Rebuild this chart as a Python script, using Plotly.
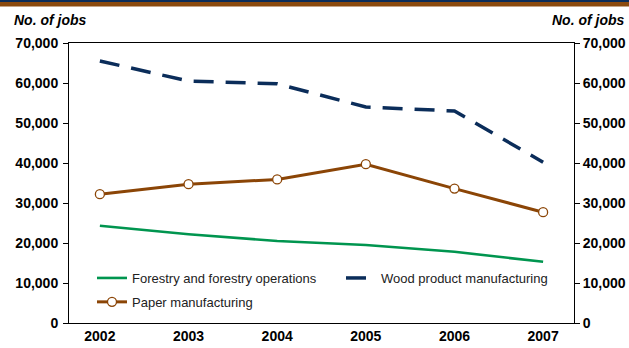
import plotly.graph_objects as go

years = ["2002", "2003", "2004", "2005", "2006", "2007"]
forestry = [24300, 22200, 20500, 19500, 17800, 15300]
wood = [65500, 60500, 59800, 54000, 53000, 40200]
paper = [32200, 34700, 35900, 39700, 33600, 27700]
y_ticks = [0, 10000, 20000, 30000, 40000, 50000, 60000, 70000]
y_tick_text = ["0", "10,000", "20,000", "30,000", "40,000", "50,000", "60,000", "70,000"]

GREEN = "#00954f"
NAVY = "#0b2d5a"
BROWN = "#8b4506"
FONT = "Liberation Sans, Arial, sans-serif"

W, H = 629, 348
ml, mr, mt, mb = 69, 55, 43, 25
pw = W - ml - mr
ph = H - mt - mb
top_paper = 1 + mt / ph

def py(pix):
    return 1 + (mt - pix) / ph

def px(pix):
    return (pix - ml) / pw

fig = go.Figure()
fig.add_trace(go.Scatter(x=years, y=forestry, name="Forestry and forestry operations",
                         mode="lines", line=dict(color=GREEN, width=2.6),
                         legend="legend", legendgroup="a"))
fig.add_trace(go.Scatter(x=years, y=paper, name="Paper manufacturing",
                         mode="lines+markers", line=dict(color=BROWN, width=3),
                         marker=dict(symbol="circle", size=9, color="white",
                                     line=dict(color=BROWN, width=1.3)),
                         legend="legend", legendgroup="b"))
fig.add_trace(go.Scatter(x=years, y=wood, name="Wood product manufacturing",
                         mode="lines", line=dict(color=NAVY, width=3.5, dash="20px,12px"),
                         yaxis="y2", legend="legend2"))

tickfont = dict(family=FONT, size=14, color="black", weight="bold")
legfont = dict(family=FONT, size=13, color="#222222")
fig.update_layout(
    width=W, height=H,
    margin=dict(l=ml, r=mr, t=mt, b=mb),
    paper_bgcolor="white", plot_bgcolor="white",
    font=dict(family=FONT, color="black"),
    xaxis=dict(showline=True, linecolor="black", linewidth=1, mirror=True,
               showgrid=False, ticks="", tickfont=tickfont, zeroline=False,
               automargin=False),
    yaxis=dict(range=[0, 70000], tickvals=y_ticks, ticktext=y_tick_text,
               showline=True, linecolor="black", linewidth=1, showgrid=False,
               ticks="outside", ticklen=5, tickcolor="black", zeroline=False,
               tickfont=tickfont, automargin=False, ticklabelstandoff=2),
    yaxis2=dict(range=[0, 70000], tickvals=y_ticks, ticktext=y_tick_text,
                overlaying="y", side="right", showline=True, linecolor="black",
                linewidth=1, showgrid=False, ticks="outside", ticklen=5,
                tickcolor="black", zeroline=False, tickfont=tickfont,
                automargin=False),
    legend=dict(orientation="v", x=px(92), y=py(263), xanchor="left", yanchor="top",
                bgcolor="rgba(0,0,0,0)", font=legfont, traceorder="grouped",
                tracegroupgap=4),
    legend2=dict(orientation="v", x=px(341), y=py(263), xanchor="left", yanchor="top",
                 bgcolor="rgba(0,0,0,0)", font=legfont),
    showlegend=True,
    annotations=[
        dict(text="<b><i>No. of jobs</i></b>", xref="paper", yref="paper",
             x=px(12), y=py(20), xanchor="left", yanchor="middle",
             showarrow=False, font=dict(family=FONT, size=14, color="black")),
        dict(text="<b><i>No. of jobs</i></b>", xref="paper", yref="paper",
             x=px(627), y=py(20), xanchor="right", yanchor="middle",
             showarrow=False, font=dict(family=FONT, size=14, color="black")),
    ],
    shapes=[
        dict(type="rect", xref="paper", yref="paper",
             x0=px(0), x1=px(W), y0=top_paper, y1=py(2),
             fillcolor=NAVY, line=dict(width=0), layer="above"),
        dict(type="rect", xref="paper", yref="paper",
             x0=px(0), x1=px(W), y0=py(2), y1=py(6.5),
             fillcolor="#8b4a0e", line=dict(width=0), layer="above"),
    ],
)
fig.write_html("out.html")
